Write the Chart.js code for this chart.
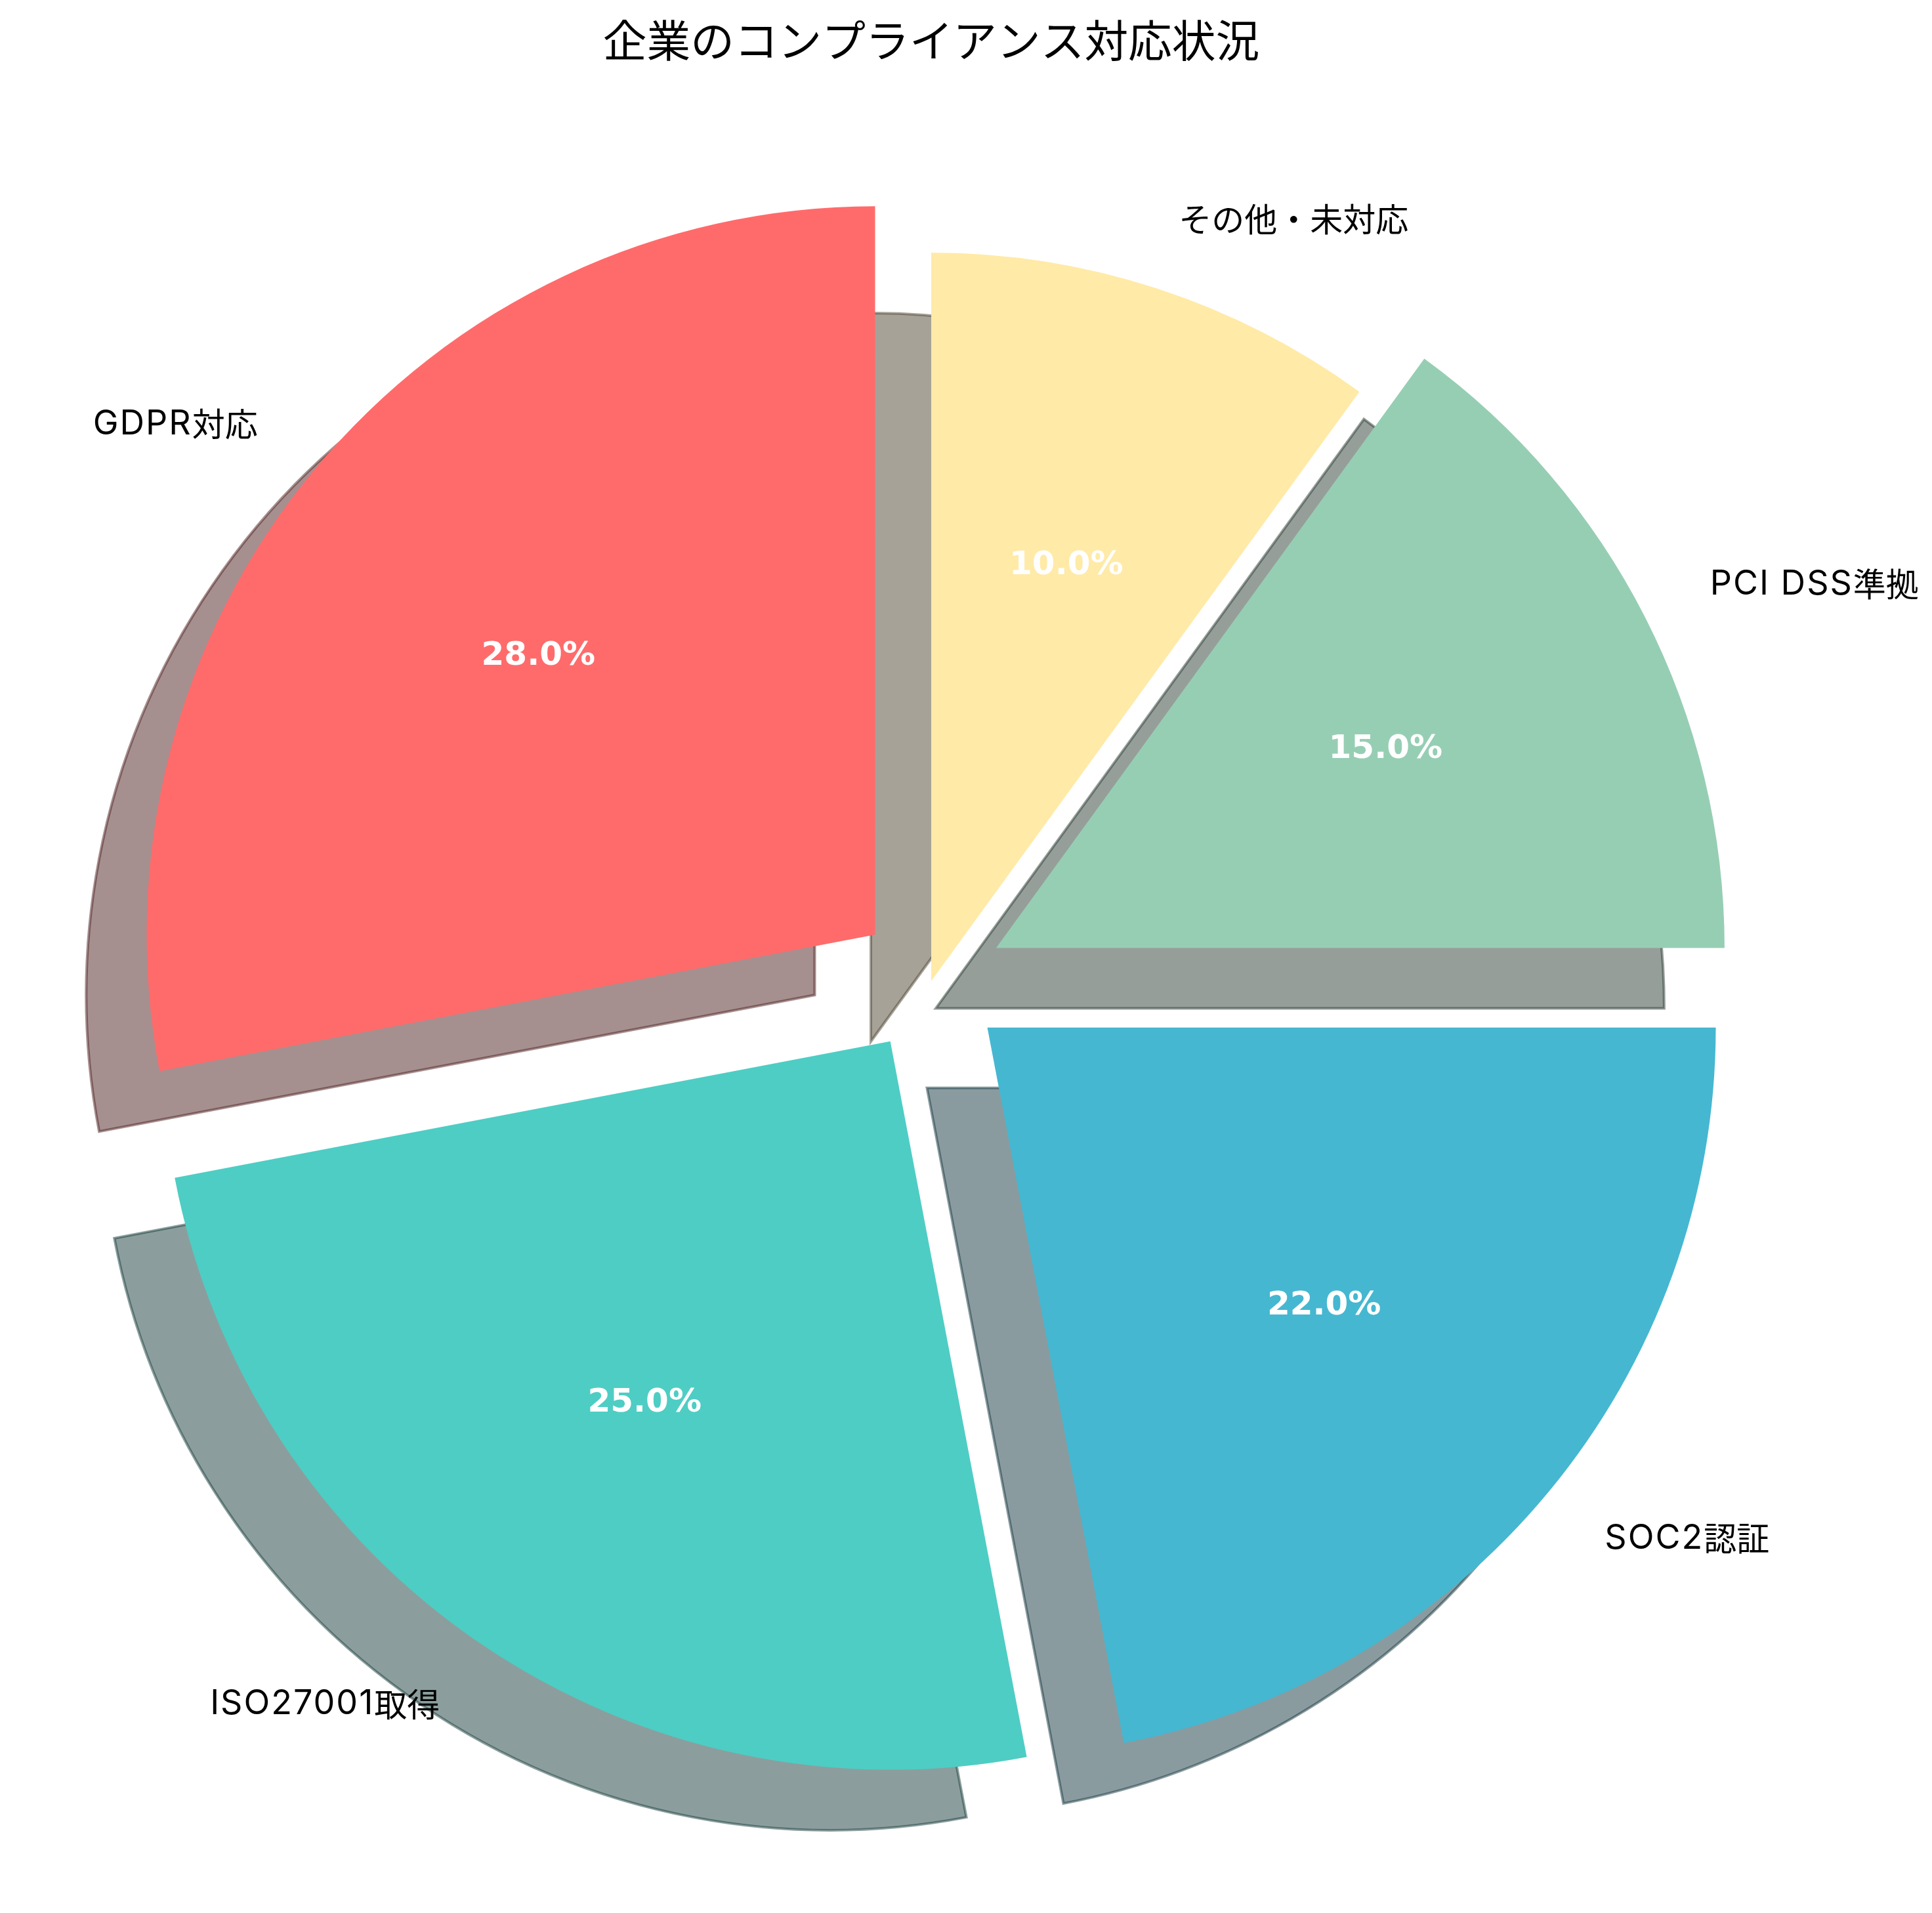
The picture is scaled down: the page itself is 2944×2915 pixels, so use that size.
<!DOCTYPE html>
<html>
<head>
<meta charset="utf-8">
<script src="https://cdn.jsdelivr.net/npm/chart.js@4.4.1/dist/chart.umd.min.js"></script>
<style>
html,body{margin:0;padding:0;background:#ffffff;}
#wrap{width:2944px;height:2915px;position:relative;}
</style>
</head>
<body>
<div id="wrap"><canvas id="c"></canvas></div>
<script>
// Data (matplotlib order: counter-clockwise from the top)
const categories = ['GDPR対応', 'ISO27001取得', 'SOC2認証', 'PCI DSS準拠', 'その他・未対応'];
const shares = [28, 25, 22, 15, 10];
const colors = ['#FF6B6B', '#4ECDC4', '#45B7D1', '#96CEB4', '#FFEAA7'];
const explode = [0.1, 0.1, 0.1, 0.1, 0];
const titleText = '企業のコンプライアンス対応状況';

// Chart.js draws clockwise from the top, so reverse the order
const chartLabels = categories.slice().reverse();
const chartValues = shares.slice().reverse();
const chartColors = colors.slice().reverse();
const chartExplode = explode.slice().reverse();

const RADIUS = 1110;
const SHADOW_DX = -92, SHADOW_DY = 92;
const LATIN_FONT = '52px Inter';
const LATIN_SPACING = 2;
const CJK_FONT = '50px "Noto Sans CJK JP"';

function hexToRgb(h) {
  const n = parseInt(h.slice(1), 16);
  return [(n >> 16) & 255, (n >> 8) & 255, n & 255];
}

// split text into Latin / CJK runs
function textRuns(s) {
  const runs = [];
  for (const ch of s) {
    const latin = ch.charCodeAt(0) < 0x2000;
    if (runs.length && runs[runs.length - 1].latin === latin) runs[runs.length - 1].text += ch;
    else runs.push({ latin, text: ch });
  }
  return runs;
}

function drawMixed(ctx, s, x, y, align) {
  const runs = textRuns(s);
  let total = 0;
  runs.forEach(r => {
    ctx.font = r.latin ? LATIN_FONT : CJK_FONT;
    ctx.letterSpacing = (r.latin ? LATIN_SPACING : 0) + 'px';
    r.w = ctx.measureText(r.text).width;
    total += r.w;
  });
  let cx = align === 'left' ? x : x - total;
  ctx.textAlign = 'left';
  runs.forEach(r => {
    ctx.font = r.latin ? LATIN_FONT : CJK_FONT;
    ctx.letterSpacing = (r.latin ? LATIN_SPACING : 0) + 'px';
    ctx.fillText(r.text, cx, y);
    cx += r.w;
  });
  ctx.letterSpacing = '0px';
}

const piePlugin = {
  id: 'mplPie',
  beforeDatasetsDraw(chart) {
    const ctx = chart.ctx;
    const arcs = chart.getDatasetMeta(0).data;
    // shadows
    arcs.forEach((arc, i) => {
      const mid = (arc.startAngle + arc.endAngle) / 2;
      const off = chartExplode[i] * arc.outerRadius;
      const cx = arc.x + Math.cos(mid) * off + SHADOW_DX;
      const cy = arc.y + Math.sin(mid) * off + SHADOW_DY;
      const rgb = hexToRgb(chartColors[i]).map(v => Math.round(v * 0.3));
      ctx.save();
      ctx.beginPath();
      ctx.moveTo(cx, cy);
      ctx.arc(cx, cy, arc.outerRadius, arc.startAngle, arc.endAngle);
      ctx.closePath();
      ctx.fillStyle = 'rgba(' + rgb.join(',') + ',0.5)';
      ctx.strokeStyle = 'rgba(' + rgb.join(',') + ',0.5)';
      ctx.lineWidth = 4;
      ctx.lineJoin = 'miter';
      ctx.fill();
      ctx.stroke();
      ctx.restore();
    });
    // wedges
    arcs.forEach((arc, i) => {
      const mid = (arc.startAngle + arc.endAngle) / 2;
      const off = chartExplode[i] * arc.outerRadius;
      ctx.save();
      ctx.translate(Math.cos(mid) * off, Math.sin(mid) * off);
      arc.draw(ctx);
      ctx.restore();
    });
    return false;
  },
  afterDraw(chart) {
    const ctx = chart.ctx;
    const meta = chart.getDatasetMeta(0);
    const arcs = meta.data;
    const total = chartValues.reduce((a, b) => a + b, 0);
    arcs.forEach((arc, i) => {
      const mid = (arc.startAngle + arc.endAngle) / 2;
      const off = chartExplode[i] * arc.outerRadius;
      const ex = arc.x + Math.cos(mid) * off;
      const ey = arc.y + Math.sin(mid) * off;
      // outer label
      const lx = ex + Math.cos(mid) * arc.outerRadius * 1.1;
      const ly = ey + Math.sin(mid) * arc.outerRadius * 1.1;
      ctx.save();
      ctx.fillStyle = '#000000';
      ctx.textBaseline = 'middle';
      drawMixed(ctx, chartLabels[i], lx, ly, Math.cos(mid) > 0 ? 'left' : 'right');
      // percentage
      const px = ex + Math.cos(mid) * arc.outerRadius * 0.6;
      const py = ey + Math.sin(mid) * arc.outerRadius * 0.6;
      ctx.font = 'bold 50px "DejaVu Sans"';
      ctx.fillStyle = '#ffffff';
      ctx.textAlign = 'center';
      ctx.fillText((chartValues[i] / total * 100).toFixed(1) + '%', px, py);
      ctx.restore();
    });
    // title
    ctx.save();
    ctx.font = '66.7px "Noto Sans CJK JP"';
    ctx.fillStyle = '#000000';
    ctx.textAlign = 'center';
    ctx.textBaseline = 'middle';
    ctx.fillText(titleText, arcs[0].x, 62);
    ctx.restore();
  }
};

new Chart(document.getElementById('c'), {
  type: 'pie',
  data: {
    labels: chartLabels,
    datasets: [{
      data: chartValues,
      backgroundColor: chartColors,
      borderWidth: 0,
      borderColor: 'rgba(0,0,0,0)',
      radius: RADIUS
    }]
  },
  options: {
    responsive: true,
    maintainAspectRatio: false,
    devicePixelRatio: 1,
    animation: false,
    events: [],
    layout: { padding: { left: 0, right: 106, top: 75, bottom: 0 } },
    plugins: {
      legend: { display: false },
      tooltip: { enabled: false },
      title: { display: false }
    }
  },
  plugins: [piePlugin]
});
</script>
</body>
</html>
